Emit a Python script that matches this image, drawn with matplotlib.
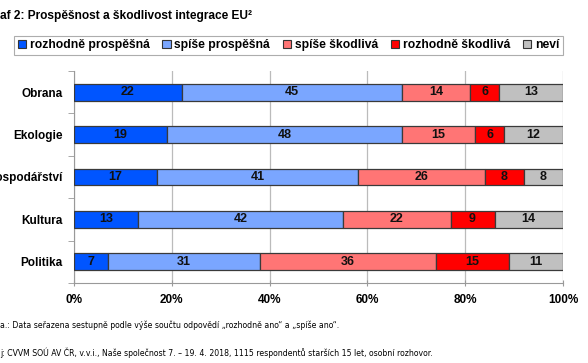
import numpy as np
import matplotlib.pyplot as plt
from matplotlib.patches import Patch

categories = ["Obrana", "Ekologie", "Hospodářství", "Kultura", "Politika"]
series_names = ["rozhodně prospěšná", "spíše prospěšná", "spíše škodlivá", "rozhodně škodlivá", "neví"]
rozhodne_prospesna = [22, 19, 17, 13, 7]
spise_prospesna = [45, 48, 41, 42, 31]
spise_skodliva = [14, 15, 26, 22, 36]
rozhodne_skodliva = [6, 6, 8, 9, 15]
nevi = [13, 12, 8, 14, 11]
xticks = [0, 20, 40, 60, 80, 100]

colors = ["#0055ff", "#7aa6ff", "#ff7575", "#ff0000", "#c0c0c0"]
series = [rozhodne_prospesna, spise_prospesna, spise_skodliva, rozhodne_skodliva, nevi]

plt.rcParams['font.family'] = ['Liberation Sans', 'DejaVu Sans']

fig = plt.figure(figsize=(5.88, 3.63), dpi=100)
ax = fig.add_axes([74/588, 1-283/363, 489/588, 212/363])

y = np.arange(len(categories))
left = np.zeros(len(categories))
for vals, col in zip(series, colors):
    vals = np.array(vals, dtype=float)
    ax.barh(y, vals, left=left, height=0.4, color=col, edgecolor="#3a3a3a", linewidth=0.9, zorder=3)
    for yi, l, v in zip(y, left, vals):
        ax.text(l + v/2, yi, str(int(v)), ha="center", va="center", fontsize=9, fontweight="bold",
                color="#111111", zorder=4)
    left += vals

ax.set_xlim(0, 100)
ax.set_ylim(len(categories) - 0.5, -0.5)
ax.set_xticks(xticks)
ax.set_xticklabels([f"{t}%" for t in xticks], fontsize=8.5, fontweight="bold")
ax.set_yticks(y)
ax.set_yticklabels(categories, fontsize=8.5, fontweight="bold")
ax.tick_params(axis="y", length=0, pad=8)
ax.set_yticks(np.arange(-0.5, len(categories), 1), minor=True)
ax.tick_params(axis="y", which="minor", length=4, color="#999999")
ax.tick_params(axis="x", length=4, color="#999999", direction="inout", pad=6)
ax.xaxis.grid(True, color="#bbbbbb", linewidth=0.9, zorder=0)
for s in ["top", "right"]:
    ax.spines[s].set_visible(False)
for s in ["left", "bottom"]:
    ax.spines[s].set_color("#999999")

handles = [Patch(facecolor=c, edgecolor="#333333", linewidth=0.8) for c in colors]
leg = fig.legend(handles, series_names, loc="lower left",
                 bbox_to_anchor=(14/588, 1-55/363, 549/588, 18/363), mode="expand",
                 ncol=5, frameon=True, fancybox=False, handlelength=0.7, handleheight=0.7,
                 handletextpad=0.3, columnspacing=1.0, borderpad=0.3, borderaxespad=0,
                 prop={"weight": "bold", "size": 8.7})
leg.get_frame().set_edgecolor("#999999")
leg.get_frame().set_linewidth(0.8)

fig.text(0.0, 1-16/363, "af 2: Prospěšnost a škodlivost integrace EU²", fontsize=8.6, fontweight="bold",
         va="center", ha="left")
fig.text(0.0, 1-325/363, "a.: Data seřazena sestupně podle výše součtu odpovědí „rozhodně ano“ a „spíše ano“.",
         fontsize=5.6, va="center", ha="left", family=["Liberation Sans Narrow", "DejaVu Sans"])
fig.text(0.0, 1-353/363, "j: CVVM SOÚ AV ČR, v.v.i., Naše společnost 7. – 19. 4. 2018, 1115 respondentů starších 15 let, osobní rozhovor.",
         fontsize=5.6, va="center", ha="left", family=["Liberation Sans Narrow", "DejaVu Sans"])

fig.savefig("out.png", dpi=100)
